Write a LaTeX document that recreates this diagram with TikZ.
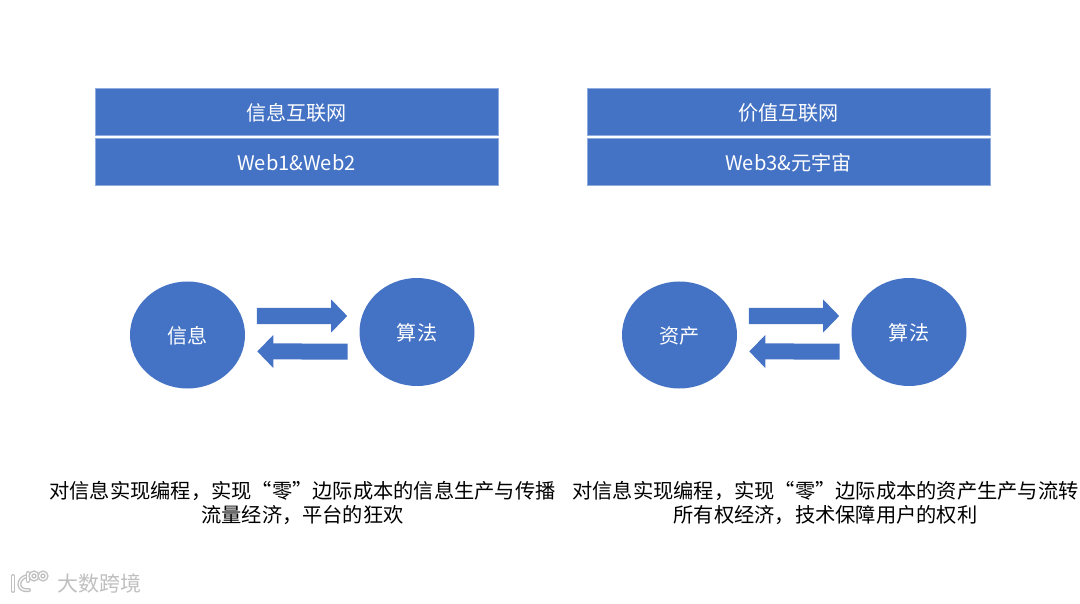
\documentclass[tikz,border=0pt]{standalone}
\usepackage{fontspec}
\setmainfont{Noto Sans CJK SC}
\usepackage{xcolor}
\usetikzlibrary{shapes.geometric,arrows.meta,positioning,calc}
\definecolor{slideblue}{HTML}{4472C4}
\definecolor{slideedge}{HTML}{8FAADC}
\tikzset{
  headbox/.style ={rectangle, draw=slideedge, line width=0.3pt, fill=slideblue,
                   minimum width=100.75mm, minimum height=11.75mm, inner sep=0pt,
                   text height=5.2mm, text depth=0.7mm,
                   text=white, font=\fontsize{14.3}{17}\selectfont},
  bubble/.style  ={ellipse, fill=slideblue, minimum width=28.75mm, minimum height=26.75mm,
                   inner sep=0pt, text height=5mm, text depth=0.7mm,
                   text=white, font=\fontsize{14.3}{17}\selectfont},
  bubbletop/.style={bubble, minimum height=27mm},
  fatflow/.style ={-{Triangle[length=4mm,width=8mm]}, draw=slideblue, line width=4mm,
                   shorten <=2.9mm, shorten >=3mm},
  caption/.style ={align=center, text=black, inner sep=0pt,
                   font=\fontsize{14.4}{17.05}\selectfont},
  stamp/.style   ={text=black!25, inner sep=0pt, font=\fontsize{14.9}{18}\selectfont},
  stampline/.style={draw=black!25, line width=0.35mm, double=white, double distance=0.3mm,
                    line cap=round}
}
\begin{document}
\begin{tikzpicture}[x=0.25mm,y=-0.25mm]
  \useasboundingbox (0,0) rectangle (1080,604);
  % ---------------- left side ----------------
  \node[headbox]  (infonet)  at (296.5,112)   {信息互联网};
  \node[headbox]  (infoweb)  at (296.5,162)   {Web1\&Web2};
  \node[bubble]   (info)     at (187.5,335)   {信息};
  \node[bubbletop] (algoa)   at (417,332)     {算法};
  \node[caption]  (infotext) at (302.5,502.5) {对信息实现编程，实现“零”边际成本的信息生产与传播\\
                                               流量经济，平台的狂欢};

  % ---------------- right side ----------------
  \node[headbox]  (valuenet) at (788.5,111.5) {价值互联网};
  \node[headbox]  (valueweb) at (788.5,161.5) {Web3\&元宇宙};
  \node[bubble]   (asset)    at (679.5,335)   {资产};
  \node[bubbletop] (algob)   at (909,332)     {算法};
  \node[caption]  (valuetext) at (825.5,502.5) {对信息实现编程，实现“零”边际成本的资产生产与流转\\
                                               所有权经济，技术保障用户的权利};

  % ---------------- flows ----------------
  \draw[fatflow] ([yshift=4.75mm]info.east)   -- ([yshift=4mm]algoa.west);
  \draw[fatflow] ([yshift=-4.9mm]algoa.west)  -- ([yshift=-4.1mm]info.east);
  \draw[fatflow] ([yshift=4.75mm]asset.east)  -- ([yshift=4mm]algob.west);
  \draw[fatflow] ([yshift=-4.9mm]algob.west)  -- ([yshift=-4.1mm]asset.east);

  % ---------------- stamp ----------------
  \node[stamp, anchor=west] (stamptext) at (57,584) {大数跨境};
  \draw[stampline] (13,576) -- (13,591);
  \draw[stampline] (27,576) .. controls (16,579) and (17,592) .. (29,590);
  \draw[stampline] (28,573) -- (28,581);
  \draw[stampline] (34,576) circle (3.5);
  \draw[stampline] (43,576) circle (3.5);
\end{tikzpicture}
\end{document}
